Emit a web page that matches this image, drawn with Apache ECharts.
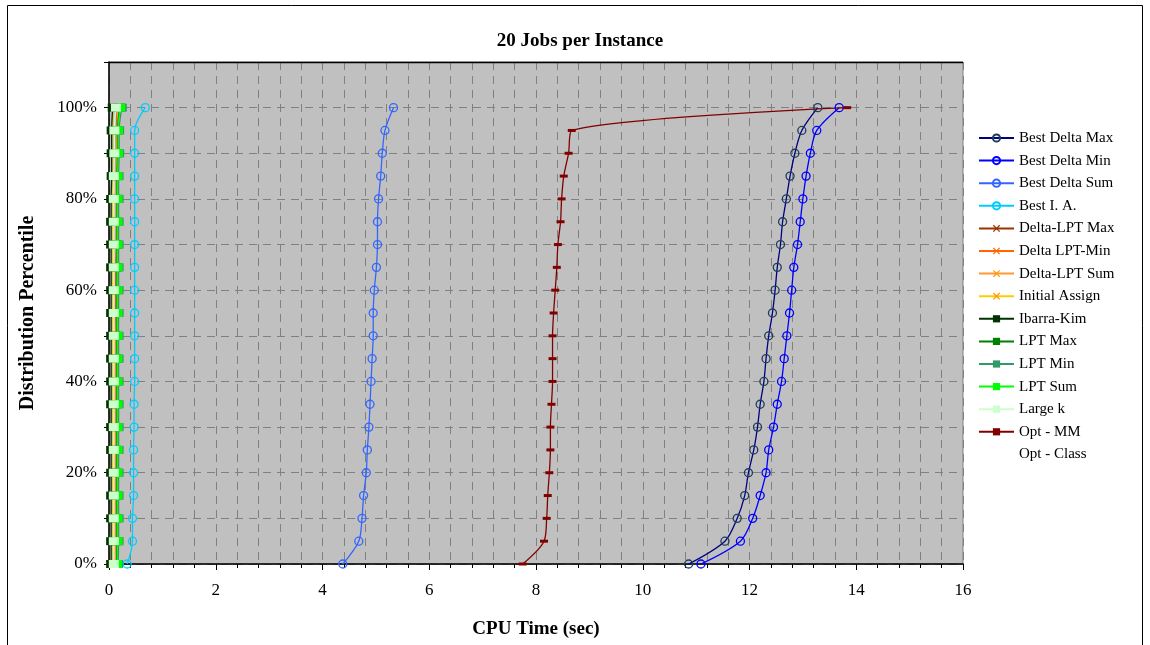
<!DOCTYPE html>
<html>
<head>
<meta charset="utf-8">
<title>20 Jobs per Instance</title>
<script src="https://cdn.jsdelivr.net/npm/echarts@6/dist/echarts.min.js"></script>
<style>
  html, body { margin: 0; padding: 0; background: #ffffff; }
  #chart { width: 1150px; height: 645px; }
</style>
</head>
<body>
<div id="chart"></div>
<script>
// Distribution percentiles (y) shared by every series
const percentiles = [0, 5, 10, 15, 20, 25, 30, 35, 40, 45, 50, 55, 60, 65, 70, 75, 80, 85, 90, 95, 100];

// CPU time (sec) reached at each percentile, one array per heuristic
const bestDeltaMax = [10.86, 11.54, 11.77, 11.91, 11.98, 12.08, 12.15, 12.20, 12.27, 12.31, 12.36, 12.43, 12.48, 12.52, 12.58, 12.62, 12.69, 12.76, 12.85, 12.98, 13.28];
const bestDeltaMin = [11.09, 11.83, 12.06, 12.20, 12.31, 12.36, 12.45, 12.52, 12.60, 12.65, 12.70, 12.75, 12.79, 12.83, 12.90, 12.95, 13.00, 13.06, 13.14, 13.26, 13.68];
const bestDeltaSum = [4.38, 4.68, 4.74, 4.77, 4.82, 4.84, 4.87, 4.89, 4.91, 4.93, 4.95, 4.95, 4.97, 5.01, 5.03, 5.03, 5.05, 5.09, 5.12, 5.17, 5.33];
const bestIA       = [0.34, 0.44, 0.44, 0.46, 0.46, 0.46, 0.47, 0.47, 0.48, 0.48, 0.48, 0.48, 0.48, 0.48, 0.48, 0.48, 0.48, 0.48, 0.48, 0.48, 0.68];
const deltaLptMax  = [0.12, 0.13, 0.13, 0.13, 0.13, 0.13, 0.13, 0.13, 0.13, 0.13, 0.13, 0.13, 0.13, 0.13, 0.14, 0.14, 0.14, 0.14, 0.14, 0.14, 0.16];
const deltaLptMin  = [0.13, 0.14, 0.14, 0.14, 0.14, 0.14, 0.14, 0.14, 0.14, 0.14, 0.14, 0.14, 0.14, 0.14, 0.14, 0.15, 0.15, 0.15, 0.15, 0.15, 0.17];
const deltaLptSum  = [0.12, 0.13, 0.13, 0.13, 0.13, 0.13, 0.13, 0.13, 0.13, 0.13, 0.13, 0.14, 0.14, 0.14, 0.14, 0.14, 0.14, 0.14, 0.14, 0.15, 0.16];
const initialAssign= [0.05, 0.06, 0.06, 0.06, 0.06, 0.06, 0.06, 0.06, 0.06, 0.06, 0.06, 0.06, 0.06, 0.06, 0.06, 0.06, 0.06, 0.06, 0.06, 0.06, 0.08];
const ibarraKim    = [0.04, 0.04, 0.04, 0.04, 0.04, 0.04, 0.04, 0.04, 0.04, 0.04, 0.04, 0.04, 0.04, 0.04, 0.04, 0.04, 0.04, 0.05, 0.05, 0.05, 0.07];
const lptMax       = [0.14, 0.15, 0.15, 0.15, 0.15, 0.15, 0.15, 0.15, 0.15, 0.15, 0.15, 0.15, 0.15, 0.15, 0.15, 0.15, 0.15, 0.15, 0.16, 0.16, 0.20];
const lptMin       = [0.17, 0.18, 0.18, 0.18, 0.18, 0.18, 0.18, 0.18, 0.18, 0.18, 0.18, 0.18, 0.18, 0.18, 0.18, 0.18, 0.18, 0.18, 0.19, 0.19, 0.24];
const lptSum       = [0.15, 0.16, 0.16, 0.16, 0.16, 0.16, 0.16, 0.16, 0.16, 0.16, 0.16, 0.16, 0.16, 0.16, 0.16, 0.16, 0.16, 0.16, 0.17, 0.17, 0.21];
const largeK       = [0.09, 0.09, 0.09, 0.09, 0.09, 0.09, 0.09, 0.09, 0.09, 0.09, 0.09, 0.09, 0.09, 0.09, 0.09, 0.09, 0.09, 0.09, 0.10, 0.10, 0.13];
const optMM        = [7.75, 8.15, 8.20, 8.22, 8.25, 8.27, 8.27, 8.29, 8.31, 8.31, 8.31, 8.33, 8.36, 8.39, 8.41, 8.46, 8.48, 8.52, 8.61, 8.67, 13.83];
const optClass     = [];

// Axis tick labels
const xTickLabels = ['0', '2', '4', '6', '8', '10', '12', '14', '16'];
const yTickLabels = ['0%', '20%', '40%', '60%', '80%', '100%'];

const SERIF = '"Liberation Serif", "DejaVu Serif", serif';
const CROSS = 'path://M0,1.2L1.2,0L10,8.8L8.8,10Z M8.8,0L10,1.2L1.2,10L0,8.8Z';

function pairs(xs) {
  return xs.map((x, i) => [x, percentiles[i]]);
}

function circleSeries(name, values, lineColor, markColor) {
  return {
    name, type: 'line', data: pairs(values), smooth: 0.3,
    symbol: 'circle', symbolSize: 8,
    lineStyle: { color: lineColor, width: 1.3 },
    itemStyle: { color: 'rgba(0,0,0,0)', borderColor: markColor, borderWidth: 1.3 },
    emphasis: { disabled: true }
  };
}

function crossSeries(name, values, lineColor, markColor) {
  return {
    name, type: 'line', data: pairs(values), smooth: 0.3,
    symbol: CROSS, symbolSize: 8,
    lineStyle: { color: lineColor, width: 1.3 },
    itemStyle: { color: markColor },
    emphasis: { disabled: true }
  };
}

function squareSeries(name, values, lineColor, markColor) {
  return {
    name, type: 'line', data: pairs(values), smooth: 0.3,
    symbol: 'rect', symbolSize: [10, 8],
    lineStyle: { color: lineColor, width: 1.3 },
    itemStyle: { color: markColor },
    emphasis: { disabled: true }
  };
}

const series = [
  circleSeries('Best Delta Max', bestDeltaMax, '#000080', '#1c3c5c'),
  circleSeries('Best Delta Min', bestDeltaMin, '#0000ff', '#0000ff'),
  circleSeries('Best Delta Sum', bestDeltaSum, '#3366ff', '#3366ff'),
  circleSeries('Best I. A.', bestIA, '#00ccff', '#00ccff'),
  crossSeries('Delta-LPT Max', deltaLptMax, '#993300', '#993300'),
  crossSeries('Delta LPT-Min', deltaLptMin, '#ff6600', '#ff6600'),
  crossSeries('Delta-LPT Sum', deltaLptSum, '#ff9933', '#ff9900'),
  crossSeries('Initial Assign', initialAssign, '#ffcc00', '#ff9900'),
  squareSeries('Ibarra-Kim', ibarraKim, '#003300', '#003300'),
  squareSeries('LPT Max', lptMax, '#008000', '#008000'),
  squareSeries('LPT Min', lptMin, '#339966', '#339966'),
  squareSeries('LPT Sum', lptSum, '#00ff00', '#00ff00'),
  squareSeries('Large k', largeK, '#ccffcc', '#ccffcc'),
  {
    name: 'Opt - MM', type: 'line', data: pairs(optMM), smooth: 0.3,
    symbol: 'rect', symbolSize: [8, 3],
    lineStyle: { color: '#800000', width: 1.3 },
    itemStyle: { color: '#800000' },
    emphasis: { disabled: true }
  },
  {
    name: 'Opt - Class', type: 'line', data: pairs(optClass),
    symbol: 'none',
    lineStyle: { color: 'rgba(0,0,0,0)', width: 0 },
    itemStyle: { color: 'rgba(0,0,0,0)' }
  }
];

const legendNames = series.map(s => s.name);

const chart = echarts.init(document.getElementById('chart'), null, { renderer: 'canvas' });

chart.setOption({
  animation: false,
  backgroundColor: '#ffffff',
  title: {
    text: '20 Jobs per Instance',
    left: 575, top: 27, textAlign: 'center',
    textStyle: { fontFamily: SERIF, fontSize: 19, fontWeight: 'bold', color: '#000' }
  },
  legend: {
    orient: 'vertical',
    left: 973, top: 125,
    itemWidth: 35, itemHeight: 9, itemGap: 6.6,
    data: legendNames.map(n => n === 'Opt - Class'
      ? { name: n, icon: 'none', itemStyle: { opacity: 0 }, lineStyle: { opacity: 0 } }
      : { name: n }),
    textStyle: { fontFamily: SERIF, fontSize: 15, color: '#000', lineHeight: 16, padding: [0, 0, 0, 0] },
    selectedMode: false
  },
  grid: {
    left: 109, right: 187, top: 62, bottom: 81,
    show: true, backgroundColor: '#c0c0c0', borderColor: '#808080', borderWidth: 1
  },
  xAxis: {
    type: 'value', min: 0, max: 16, interval: 2,
    name: 'CPU Time (sec)', nameLocation: 'middle', nameGap: 56,
    nameTextStyle: { fontFamily: SERIF, fontSize: 19, fontWeight: 'bold', color: '#000' },
    axisLine: { show: true, onZero: false, lineStyle: { color: '#000', width: 1.5 } },
    axisTick: { show: true, length: 6, lineStyle: { color: '#000' } },
    minorTick: { show: true, splitNumber: 5, length: 4, lineStyle: { color: '#000' } },
    axisLabel: {
      margin: 18, fontFamily: SERIF, fontSize: 17, color: '#000',
      formatter: v => xTickLabels[Math.round(v / 2)]
    },
    splitLine: { show: true, lineStyle: { color: '#808080', type: [8, 6], width: 1 } },
    minorSplitLine: { show: true, lineStyle: { color: '#808080', type: [8, 6], width: 1 } }
  },
  yAxis: {
    type: 'value', min: 0, max: 110, interval: 10,
    name: 'Distribution Percentile', nameLocation: 'middle', nameGap: 71, nameRotate: 90,
    nameTextStyle: { fontFamily: SERIF, fontSize: 20, fontWeight: 'bold', color: '#000' },
    axisLine: { show: true, lineStyle: { color: '#000', width: 1.5 } },
    axisTick: { show: true, length: 5, lineStyle: { color: '#000' } },
    axisLabel: {
      margin: 12, fontFamily: SERIF, fontSize: 17, color: '#000',
      formatter: v => (v % 20 === 0 && v <= 100) ? yTickLabels[v / 20] : ''
    },
    splitLine: { show: true, lineStyle: { color: '#808080', type: [8, 6], width: 1 } }
  },
  graphic: [
    {
      type: 'rect', silent: true, z: 100,
      shape: { x: 7.5, y: 5.5, width: 1135, height: 700 },
      style: { fill: 'none', stroke: '#000', lineWidth: 1 }
    },
    {
      type: 'line', silent: true, z: 100,
      shape: { x1: 109, y1: 62.5, x2: 963, y2: 62.5 },
      style: { stroke: '#000', lineWidth: 1.5 }
    }
  ],
  series
});
</script>
</body>
</html>
